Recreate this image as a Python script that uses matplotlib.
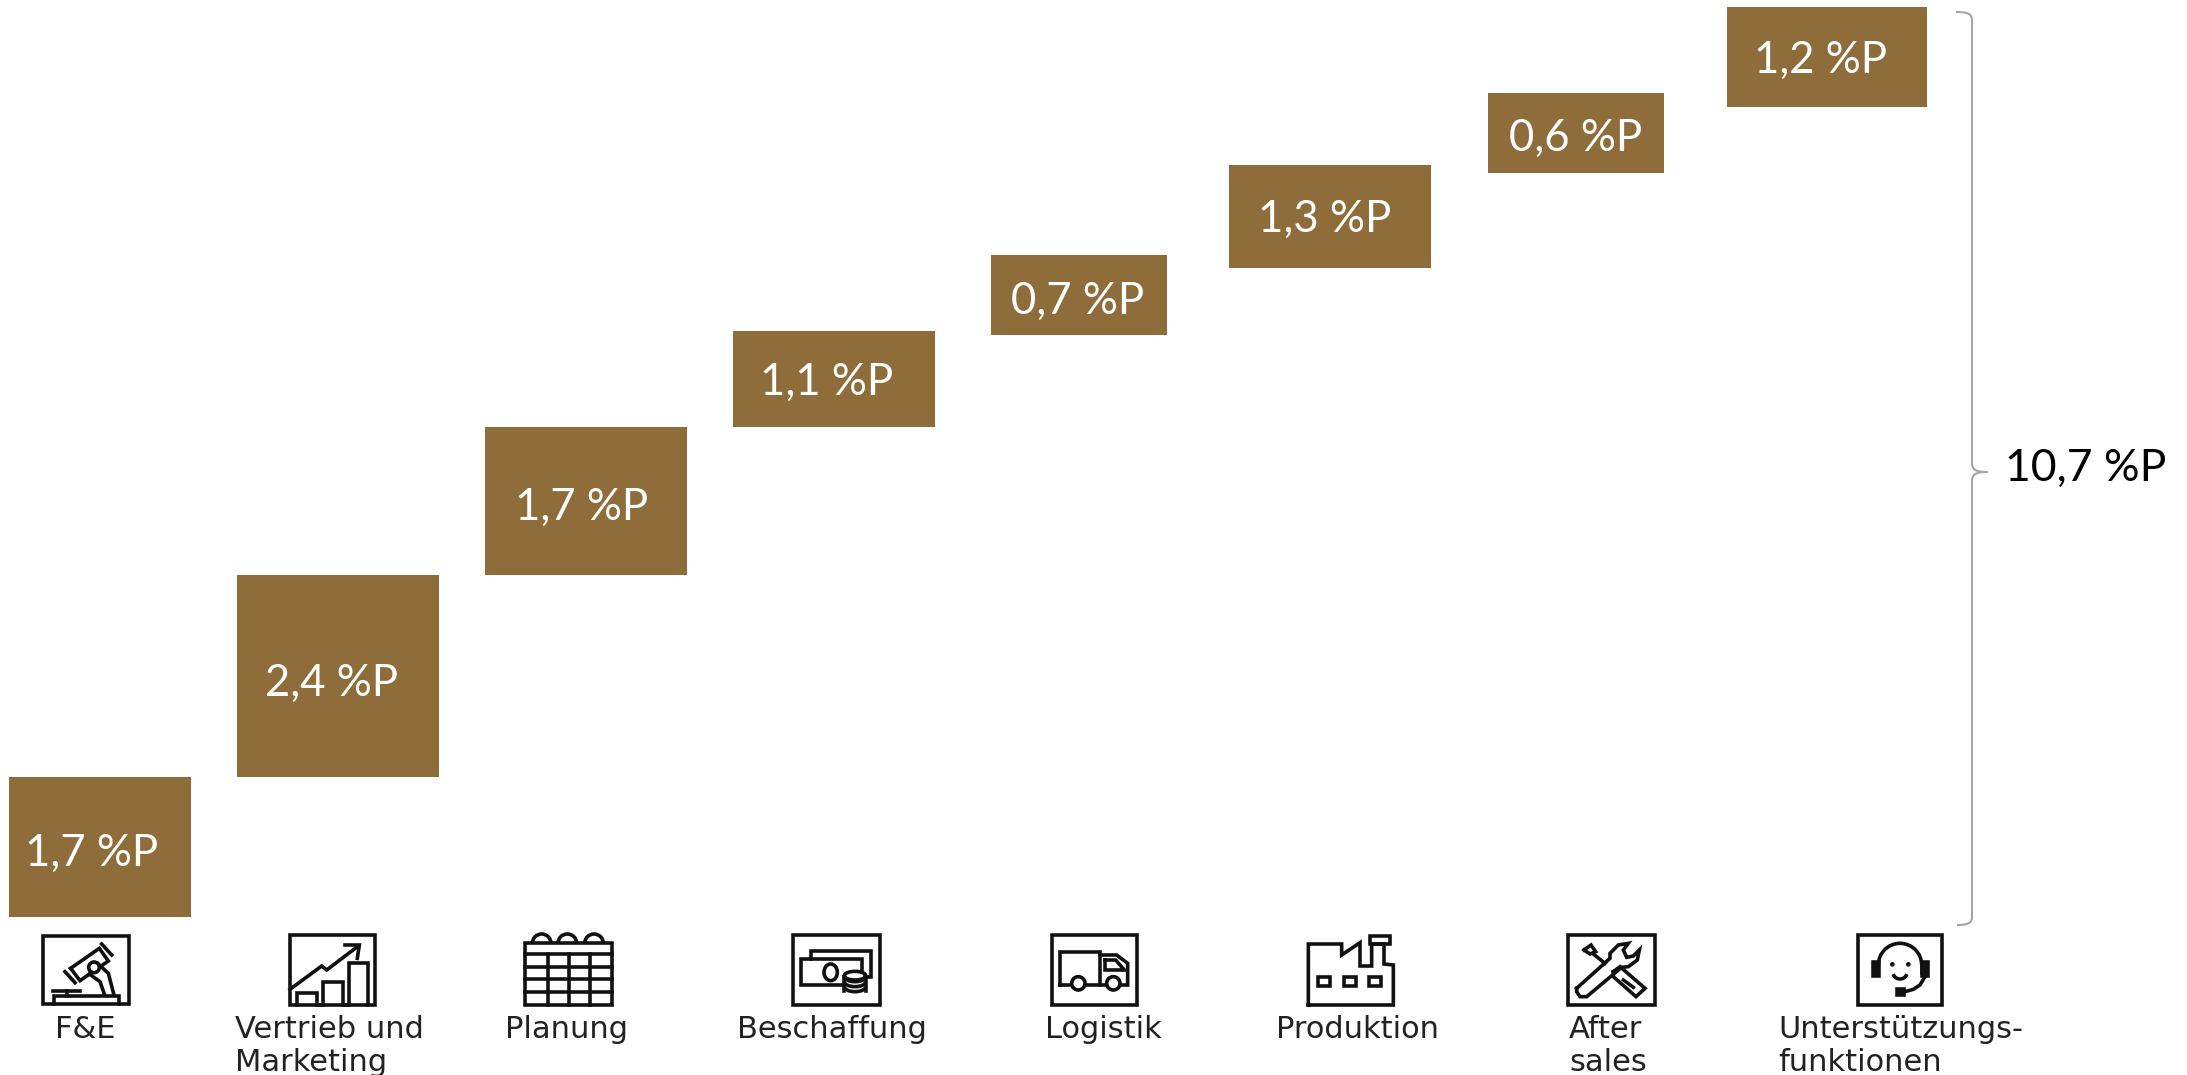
import numpy as np
import matplotlib
matplotlib.use('Agg')
import matplotlib.pyplot as plt
from matplotlib.patches import Rectangle, Circle, Ellipse, Arc, PathPatch
from matplotlib.path import Path

# Daten
kategorien = ['F&E', 'Vertrieb und\nMarketing', 'Planung', 'Beschaffung', 'Logistik',
              'Produktion', 'After\nsales', 'Unterstützungs-\nfunktionen']
werte = ['1,7 %P', '2,4 %P', '1,7 %P', '1,1 %P', '0,7 %P', '1,3 %P', '0,6 %P', '1,2 %P']
gesamt = '10,7 %P'
# Unter- und Oberkante der Kaesten (in %P ueber der Grundlinie)
von = [0.0, 1.65, 4.02, 5.76, 6.84, 7.63, 8.75, 9.52]
bis = [1.65, 4.02, 5.76, 6.89, 7.78, 8.84, 9.69, 10.70]

# Layout in Pixeln
B, H = 2187, 1075
x_mitte = [100, 338, 586, 834, 1079, 1330, 1576, 1827]
breite = [182, 202, 202, 202, 176, 202, 176, 200]
text_x = [92, 332, 582, 827, 1078, 1325, 1576, 1821]
text_y = [853, 683, 507, 382, 301, 219, 138, 60]
label_x = [55, 235, 505, 737, 1045, 1276, 1569, 1778]
px_pro_p = 85.05
basis_y = 917
braun = '#8E6D3B'
tw = 'Lato'
ts = 31.5

fig = plt.figure(figsize=(B / 100, H / 100), dpi=100)
ax = fig.add_axes([0, 0, 1, 1])
ax.set_xlim(0, B)
ax.set_ylim((basis_y - H) / px_pro_p, basis_y / px_pro_p)
ax.axis('off')
ax.bar(x_mitte, np.array(bis) - np.array(von), bottom=von, width=breite, color=braun)

# zweite Achse in Bildpixeln fuer Texte, Icons und Klammer
px = fig.add_axes([0, 0, 1, 1])
px.set_xlim(0, B)
px.set_ylim(H, 0)
px.axis('off')
px.patch.set_alpha(0)

for t, x, y in zip(werte, text_x, text_y):
    px.text(x, y, t, color='white', family=tw, fontsize=ts, ha='center', va='center')
px.text(2005, 468, gesamt, color='black', family=tw, fontsize=ts + 0.5, ha='left', va='center')

for t, x in zip(kategorien, label_x):
    for i, zeile in enumerate(t.split('\n')):
        px.text(x, 1038 + 33 * i, zeile, color='#222222', family='DejaVu Sans',
                fontsize=22, ha='left', va='baseline')

# Klammer
kl = Path([(1956, 12), (1968, 12), (1972, 14), (1972, 20), (1972, 463), (1972, 470), (1976, 472), (1988, 472),
           (1976, 472), (1972, 474), (1972, 481), (1972, 917), (1972, 923), (1968, 925), (1957, 925)],
          [Path.MOVETO, Path.CURVE4, Path.CURVE4, Path.CURVE4, Path.LINETO, Path.CURVE4, Path.CURVE4, Path.CURVE4,
           Path.CURVE4, Path.CURVE4, Path.CURVE4, Path.LINETO, Path.CURVE4, Path.CURVE4, Path.CURVE4])
px.add_patch(PathPatch(kl, fc='none', ec='#a6a6a6', lw=1.5))

lw = 2.6


def linie(x0, y0, pts, closed=False, w=lw):
    p = [(x0 + a / 3, y0 + b / 3) for a, b in pts]
    if closed:
        p.append(p[0])
    px.plot([a for a, b in p], [b for a, b in p], color='#111111', lw=w, solid_joinstyle='miter')


def rahmen(x0, y0, a, b, c, d, w=lw, fill='none'):
    px.add_patch(Rectangle((x0 + a / 3, y0 + b / 3), (c - a) / 3, (d - b) / 3, fc=fill, ec='#111111', lw=w))


def kreis(x0, y0, a, b, r, fill='white', w=lw):
    px.add_patch(Circle((x0 + a / 3, y0 + b / 3), r / 3, fc=fill, ec='#111111', lw=w, zorder=3))


def bogen(x0, y0, a, b, dx, dy, t1, t2, w=lw):
    # y-Achse ist umgedreht, daher Winkel wie im Bild gespiegelt
    px.add_patch(Arc((x0 + a / 3, y0 + b / 3), dx / 3, dy / 3, theta1=t1, theta2=t2, color='#111111', lw=w))


# F&E (Mikroskop)
x0, y0 = 0, 760
rahmen(x0, y0, 129, 527, 388, 733)
linie(x0, y0, [(162, 731), (162, 708), (358, 708), (358, 731)])
linie(x0, y0, [(158, 692), (240, 692)])
linie(x0, y0, [(200, 692), (200, 708)])
linie(x0, y0, [(212, 625), (298, 565), (325, 603), (240, 662)], closed=True)
linie(x0, y0, [(195, 635), (225, 668)])
linie(x0, y0, [(305, 552), (335, 585)])
linie(x0, y0, [(295, 612), (325, 640), (342, 705)])
linie(x0, y0, [(268, 642), (300, 665), (314, 705)])
kreis(x0, y0, 282, 622, 16)

# Vertrieb
x0, y0 = 280, 930
rahmen(x0, y0, 30, 15, 285, 225)
linie(x0, y0, [(30, 178), (125, 108), (140, 120), (235, 48)])
linie(x0, y0, [(195, 45), (238, 45), (232, 85)])
linie(x0, y0, [(50, 225), (50, 190), (112, 190), (112, 225), (130, 225), (130, 155), (190, 155), (190, 225),
               (208, 225), (208, 100), (265, 100), (265, 225)])

# Planung
x0, y0 = 515, 930
rahmen(x0, y0, 30, 40, 290, 225)
for yy in [72, 110, 148, 186]:
    linie(x0, y0, [(30, yy), (290, yy)])
for xx in [100, 162, 225]:
    linie(x0, y0, [(xx, 72), (xx, 225)])
for xx in [80, 157, 237]:
    bogen(x0, y0, xx, 40, 56, 56, 180, 360)

# Beschaffung
x0, y0 = 785, 930
rahmen(x0, y0, 25, 15, 285, 225)
linie(x0, y0, [(78, 88), (78, 62), (258, 62), (258, 140), (240, 140)])
linie(x0, y0, [(232, 125), (232, 88), (48, 88), (48, 165), (175, 165)])
px.add_patch(Ellipse((x0 + 137 / 3, y0 + 127 / 3), 40 / 3, 50 / 3, fc='none', ec='#111111', lw=lw))
linie(x0, y0, [(178, 140), (178, 182)])
linie(x0, y0, [(242, 140), (242, 182)])
px.add_patch(Ellipse((x0 + 210 / 3, y0 + 137 / 3), 64 / 3, 26 / 3, fc='white', ec='#111111', lw=lw))
for yy in [152, 167, 182]:
    bogen(x0, y0, 210, yy - 12, 64, 30, 0, 180)

# Logistik
x0, y0 = 1045, 930
rahmen(x0, y0, 22, 15, 275, 225)
linie(x0, y0, [(45, 165), (45, 67), (165, 67), (165, 165), (45, 165)])
linie(x0, y0, [(165, 75), (215, 75), (248, 100), (248, 165), (165, 165)])
linie(x0, y0, [(180, 90), (212, 90), (238, 120), (180, 120)], closed=True)
kreis(x0, y0, 100, 160, 20)
kreis(x0, y0, 205, 160, 20)

# Produktion
x0, y0 = 1300, 930
linie(x0, y0, [(25, 225), (25, 42), (125, 42), (125, 75), (180, 38), (180, 108), (215, 108), (215, 42),
               (252, 42), (252, 102), (280, 105), (280, 225)], closed=True)
rahmen(x0, y0, 210, 18, 270, 42)
for a in [55, 132, 208]:
    rahmen(x0, y0, a, 142, a + 35, 168)

# After sales
x0, y0 = 1560, 930
rahmen(x0, y0, 25, 15, 285, 225)
linie(x0, y0, [(50, 175), (150, 85), (150, 70), (175, 45), (205, 40), (190, 60), (200, 82), (220, 78), (238, 60),
               (232, 90), (205, 110), (185, 112), (80, 200), (60, 200), (50, 185)], closed=True)
linie(x0, y0, [(72, 60), (93, 45), (107, 65), (90, 72)], closed=True)
linie(x0, y0, [(100, 72), (135, 100)])
linie(x0, y0, [(160, 125), (180, 110), (255, 175), (228, 200), (160, 140)], closed=True)
linie(x0, y0, [(190, 150), (220, 172)], w=2.5)

# Unterstuetzung
x0, y0 = 1850, 930
rahmen(x0, y0, 25, 15, 275, 225)
bogen(x0, y0, 150, 105, 130, 130, 180, 360)
linie(x0, y0, [(85, 105), (85, 130)])
linie(x0, y0, [(215, 105), (215, 130)])
rahmen(x0, y0, 70, 97, 86, 138, fill='#111111')
rahmen(x0, y0, 216, 97, 235, 138, fill='#111111')
kreis(x0, y0, 127, 103, 7, fill='#111111', w=0)
kreis(x0, y0, 175, 103, 7, fill='#111111', w=0)
bogen(x0, y0, 150, 125, 44, 44, 20, 160)
linie(x0, y0, [(225, 140), (210, 165), (190, 178), (165, 185)])
rahmen(x0, y0, 140, 176, 163, 194, fill='#111111')

fig.savefig('out.png', dpi=100)
